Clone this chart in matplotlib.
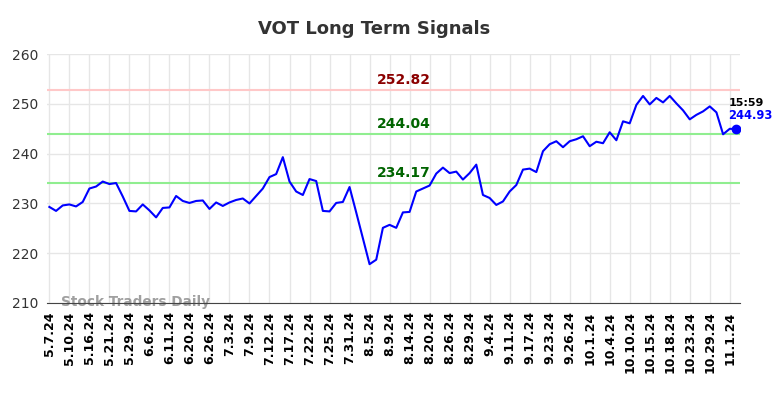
import matplotlib
matplotlib.use("Agg")
import matplotlib.pyplot as plt

TICKER = "VOT"

# cierres diarios (uno por sesion, 5.7.24 -> 11.4.24)
prices = [
    229.3, 228.5, 229.6, 229.8, 229.4, 230.3, 233.0, 233.4, 234.4, 233.9,
    234.1, 231.4, 228.5, 228.4, 229.8, 228.6, 227.2, 229.1, 229.2, 231.5,
    230.5, 230.1, 230.5, 230.6, 228.9, 230.2, 229.5, 230.2, 230.7, 231.0,
    230.0, 231.5, 233.0, 235.3, 235.9, 239.3, 234.4, 232.4, 231.7, 234.9,
    234.5, 228.5, 228.4, 230.1, 230.3, 233.3, 228.2, 223.0, 217.8, 218.7,
    225.1, 225.7, 225.1, 228.2, 228.3, 232.4, 233.0, 233.6, 236.0, 237.2,
    236.1, 236.4, 234.8, 236.1, 237.8, 231.7, 231.1, 229.7, 230.4, 232.4,
    233.7, 236.8, 237.0, 236.3, 240.5, 241.9, 242.5, 241.3, 242.5, 242.9,
    243.5, 241.5, 242.4, 242.1, 244.3, 242.7, 246.5, 246.1, 249.8, 251.6,
    249.9, 251.2, 250.3, 251.6, 250.1, 248.7, 246.9, 247.8, 248.5, 249.5,
    248.3, 243.9, 245.0, 244.93,
]

tick_labels = [
    "5.7.24", "5.10.24", "5.16.24", "5.21.24", "5.29.24", "6.6.24", "6.11.24",
    "6.20.24", "6.26.24", "7.3.24", "7.9.24", "7.12.24", "7.17.24", "7.22.24",
    "7.25.24", "7.31.24", "8.5.24", "8.9.24", "8.14.24", "8.20.24", "8.26.24",
    "8.29.24", "9.4.24", "9.11.24", "9.17.24", "9.23.24", "9.26.24", "10.1.24",
    "10.4.24", "10.10.24", "10.15.24", "10.18.24", "10.23.24", "10.29.24", "11.1.24",
]

resistance = 252.82
support_levels = [244.04, 234.17]
last_time = "15:59"


def long_term_chart():
    fig = plt.figure(figsize=(7.84, 3.98), dpi=100)
    ax = fig.add_axes([0.06, 0.2387, 0.884, 0.6253])

    x = list(range(len(prices)))
    ax.plot(x, prices, color="blue", linewidth=1.5, zorder=3)
    ax.plot(x[-1], prices[-1], "o", color="blue", markersize=6, zorder=4)

    # lineas de resistencia y soporte
    ax.axhline(resistance, color="#ffc8c8", linewidth=1.5, zorder=2)
    for lvl in support_levels:
        ax.axhline(lvl, color="#90ee90", linewidth=1.5, zorder=2)

    mid = 53.2
    ax.text(mid, resistance + 0.6, f"{resistance:.2f}", color="darkred",
            fontsize=10, fontweight="bold", ha="center", va="bottom")
    for lvl in support_levels:
        ax.text(mid, lvl + 0.6, f"{lvl:.2f}", color="darkgreen",
                fontsize=10, fontweight="bold", ha="center", va="bottom")

    # ultima cotizacion
    ax.text(x[-1] - 1.2, prices[-1] + 4.3, last_time, color="black",
            fontsize=8, fontweight="bold", ha="left", va="bottom")
    ax.text(x[-1] - 1.2, prices[-1] + 1.4, f"{prices[-1]:.2f}", color="blue",
            fontsize=8.3, fontweight="bold", ha="left", va="bottom")

    ax.text(1.8, 210.2, "Stock Traders Daily", color="gray", alpha=0.75,
            fontsize=9.8, fontweight="bold", ha="left", va="center", zorder=1)

    ax.set_xlim(-0.35, 103.55)
    ax.set_ylim(210, 260)
    ax.set_yticks(range(210, 261, 10))
    ax.set_xticks(x[::3])
    ax.set_xticklabels(tick_labels, rotation=90, fontsize=9, fontweight="bold")
    ax.tick_params(axis="both", length=0, pad=6)
    ax.tick_params(axis="y", labelsize=10, colors="#333333")

    ax.grid(True, color="#e6e6e6", linewidth=1)
    ax.set_axisbelow(True)
    for side in ["top", "right", "left"]:
        ax.spines[side].set_visible(False)
    ax.spines["bottom"].set_color("#444444")

    fig.suptitle(f"{TICKER} Long Term Signals", x=0.477, y=0.95,
                 fontsize=13, fontweight="bold", color="#333333")

    fig.savefig("out.png", dpi=100)


def main():
    long_term_chart()


if __name__ == "__main__":
    main()
